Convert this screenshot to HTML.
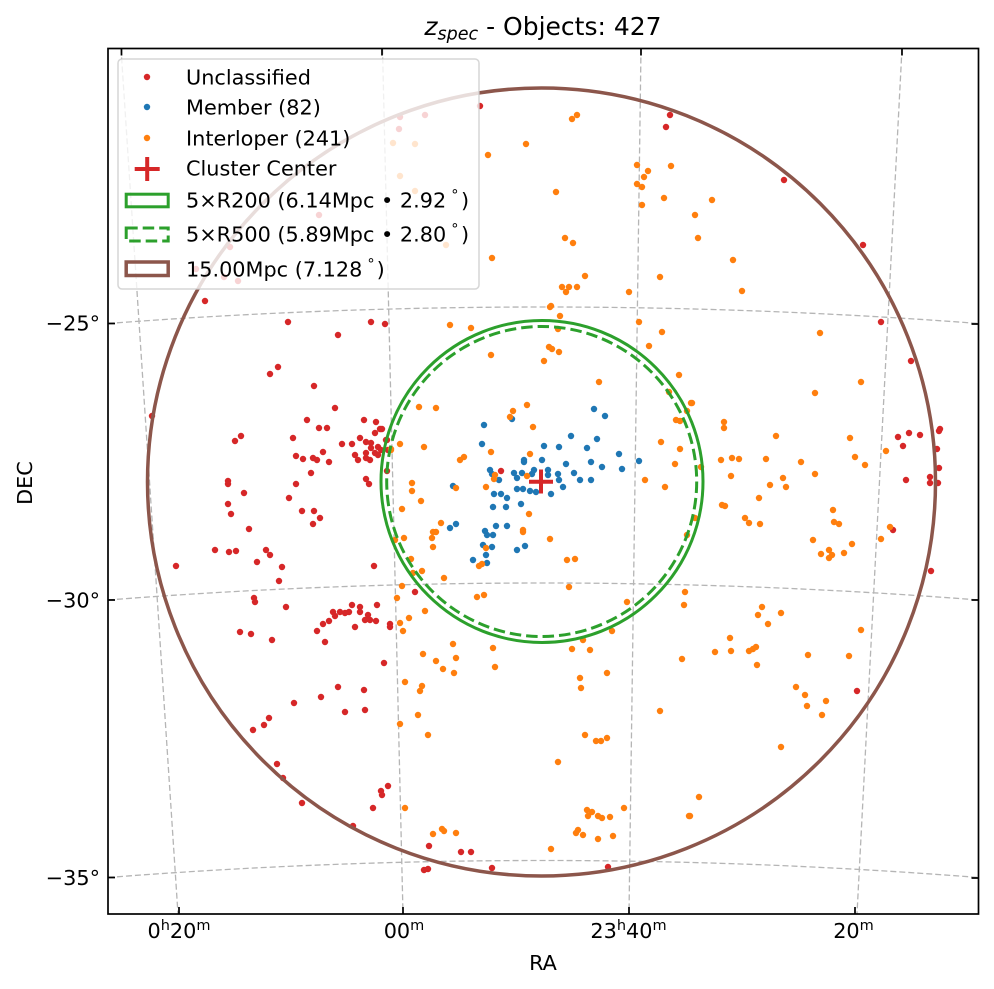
<!DOCTYPE html>
<html>
<head>
<meta charset="utf-8">
<style>
html,body{margin:0;padding:0;background:#fff;}
svg{display:block;}
text{font-family:"DejaVu Sans","Liberation Sans",sans-serif;fill:#000;}
</style>
</head>
<body>
<svg width="994" height="989" viewBox="0 0 994 989" xmlns="http://www.w3.org/2000/svg">
<defs>
<clipPath id="ax"><rect x="108" y="48.5" width="870.5" height="865.5"/></clipPath>
</defs>
<rect width="994" height="989" fill="#fff"/>

<!-- title -->
<text x="543" y="35" text-anchor="middle" font-size="25"><tspan font-style="italic">z</tspan><tspan font-style="italic" font-size="17.5" dy="4.5">spec</tspan><tspan dy="-4.5"> - Objects: 427</tspan></text>

<g clip-path="url(#ax)">
<!-- grid -->
<g fill="none" stroke="#b5b5b5" stroke-width="1.3" stroke-dasharray="6,3">
<path d="M121 48.5L178 914"/>
<path d="M382.5 48.5L403 914"/>
<path d="M641 48.5L629 914"/>
<path d="M902 48.5L857 914"/>
<path d="M108 323.5Q543 290.5 978.5 323.5"/>
<path d="M108 600Q543 566 978.5 600"/>
<path d="M108 877.5Q543 843.5 978.5 877.5"/>
</g>

<!-- unclassified -->
<path fill="none" stroke="#d62728" stroke-width="6.4" stroke-linecap="round" d="M480 106h0M670 115h0M666 127h0M784 180h0M863 245h0M881 322h0M205 301h0M400 117h0M425 115h0M399 129h0M319 215h0M230 247h0M196 269h0M224 277h0M238 281h0M288 322h0M371 322h0M385 324h0M338 335h0M278 367h0M270 374h0M314 386h0M335 408h0M152 416h0M307 420h0M364 420h0M376 422h0M380 429h0M319 428h0M327 428h0M241 436h0M235 441h0M293 438h0M360 438h0M366 442h0M371 443h0M375 433h0M378 447h0M371 448h0M381 450h0M366 453h0M375 453h0M355 455h0M358 460h0M366 458h0M370 460h0M378 455h0M386 440h0M388 450h0M342 444h0M352 444h0M323 452h0M296 456h0M303 459h0M313 458h0M317 460h0M329 462h0M311 473h0M387 471h0M228 481h0M228 484h0M366 479h0M369 484h0M296 484h0M244 493h0M289 498h0M228 504h0M231 514h0M302 511h0M314 511h0M320 518h0M313 524h0M249 529h0M215 550h0M229 552h0M236 551h0M266 550h0M270 555h0M257 562h0M282 567h0M279 581h0M176 566h0M374 566h0M254 598h0M382 429h0M387 440h0M501 471h0M415 592h0M255 602h0M286 607h0M240 632h0M251 634h0M272 640h0M317 631h0M325 642h0M323 624h0M329 621h0M333 612h0M335 616h0M340 612h0M345 613h0M349 612h0M352 605h0M360 607h0M360 612h0M355 627h0M368 615h0M365 620h0M370 620h0M376 621h0M377 605h0M390 624h0M390 627h0M384 663h0M338 687h0M321 697h0M364 690h0M294 703h0M345 712h0M365 710h0M269 718h0M264 725h0M253 730h0M277 764h0M283 778h0M302 803h0M388 786h0M381 791h0M382 795h0M373 808h0M353 826h0M429 846h0M461 852h0M471 852h0M492 868h0M424 870h0M428 869h0M608 867h0M911 361h0M898 437h0M909 433h0M920 435h0M903 446h0M939 431h0M940 429h0M937 449h0M939 468h0M930 477h0M930 483h0M938 483h0M906 480h0M893 530h0M931 571h0M857 691h0"/>

<!-- members -->
<path fill="none" stroke="#1f77b4" stroke-width="6.4" stroke-linecap="round" d="M484 425h0M482 444h0M594 409h0M605 416h0M544 446h0M559 447h0M571 436h0M597 439h0M587 448h0M619 454h0M639 461h0M622 469h0M602 467h0M591 462h0M566 464h0M574 473h0M580 480h0M591 480h0M563 487h0M559 480h0M558 474h0M548 470h0M548 475h0M542 460h0M524 460h0M524 462h0M534 470h0M532 474h0M522 473h0M514 473h0M517 478h0M490 470h0M492 474h0M499 480h0M517 489h0M523 489h0M530 491h0M536 492h0M551 494h0M494 494h0M501 494h0M507 498h0M493 507h0M506 507h0M521 504h0M453 486h0M496 526h0M507 526h0M450 528h0M456 524h0M485 531h0M487 535h0M493 535h0M483 545h0M492 547h0M517 550h0M525 546h0M473 560h0M486 555h0M487 563h0M512 419h0"/>

<!-- interlopers -->
<path fill="none" stroke="#ff7f0e" stroke-width="6.4" stroke-linecap="round" d="M572 119h0M577 115h0M526 144h0M488 155h0M637 165h0M648 171h0M644 177h0M671 166h0M637 184h0M642 187h0M642 205h0M556 192h0M664 198h0M695 215h0M698 238h0M565 238h0M573 243h0M492 258h0M585 276h0M660 277h0M562 287h0M569 287h0M577 287h0M566 292h0M629 292h0M551 306h0M712 200h0M733 260h0M742 291h0M393 143h0M415 144h0M400 176h0M415 191h0M446 245h0M550 307h0M560 316h0M558 329h0M450 325h0M471 328h0M639 322h0M662 332h0M649 346h0M491 355h0M549 347h0M552 349h0M559 352h0M544 361h0M679 375h0M599 382h0M669 392h0M691 403h0M687 411h0M419 407h0M436 408h0M527 405h0M513 411h0M510 417h0M533 427h0M676 420h0M680 421h0M400 444h0M424 447h0M661 442h0M680 449h0M491 452h0M530 454h0M464 457h0M460 460h0M675 464h0M495 475h0M494 479h0M527 476h0M412 483h0M412 491h0M456 488h0M486 487h0M645 480h0M665 487h0M421 501h0M402 509h0M529 514h0M441 523h0M433 532h0M436 532h0M432 538h0M404 538h0M523 530h0M523 532h0M550 539h0M433 547h0M486 548h0M411 559h0M567 560h0M575 559h0M422 571h0M413 573h0M482 564h0M479 566h0M444 578h0M402 586h0M569 587h0M477 597h0M484 595h0M397 598h0M685 592h0M695 518h0M687 535h0M391 449h0M391 450h0M395 540h0M820 333h0M861 382h0M815 393h0M692 403h0M724 422h0M724 428h0M776 436h0M850 438h0M886 451h0M855 457h0M865 465h0M721 460h0M732 458h0M739 459h0M766 459h0M801 462h0M815 474h0M731 476h0M783 478h0M770 485h0M786 487h0M759 498h0M722 505h0M725 506h0M745 518h0M749 523h0M760 524h0M833 510h0M834 522h0M839 524h0M890 527h0M881 539h0M813 540h0M852 544h0M829 550h0M821 554h0M832 555h0M829 558h0M844 553h0M701 467h0M400 623h0M403 631h0M405 682h0M400 724h0M405 808h0M425 611h0M409 618h0M627 602h0M684 605h0M612 631h0M583 640h0M572 649h0M590 650h0M453 644h0M493 648h0M423 654h0M456 658h0M436 661h0M443 669h0M454 673h0M495 667h0M682 659h0M607 673h0M580 678h0M581 688h0M422 686h0M420 691h0M418 715h0M428 735h0M660 711h0M585 735h0M596 741h0M601 741h0M607 738h0M558 762h0M587 810h0M592 812h0M588 816h0M598 816h0M602 818h0M610 817h0M624 808h0M689 816h0M442 829h0M444 831h0M433 834h0M456 833h0M578 830h0M576 833h0M583 835h0M598 839h0M613 836h0M551 849h0M762 607h0M758 615h0M781 613h0M768 624h0M861 630h0M730 638h0M715 652h0M731 651h0M749 651h0M753 649h0M756 647h0M808 655h0M849 656h0M757 665h0M796 687h0M805 695h0M826 701h0M807 706h0M822 715h0M781 747h0M699 797h0M690 816h0"/>

<!-- circles -->
<circle cx="541.5" cy="482" r="394" fill="none" stroke="#8c564b" stroke-width="3.5"/>
<circle cx="542" cy="481.5" r="161" fill="none" stroke="#2ca02c" stroke-width="3"/>
<circle cx="541.7" cy="481.5" r="155" fill="none" stroke="#2ca02c" stroke-width="3" stroke-dasharray="11.5,5"/>

<!-- cluster center -->
<path d="M529 481.7h24M541 469.5v24" stroke="#d62728" stroke-width="4" fill="none"/>
</g>

<!-- legend -->
<rect x="118" y="59" width="361" height="230" rx="4" ry="4" fill="#fff" fill-opacity="0.8" stroke="#cccccc" stroke-opacity="0.8" stroke-width="1.5"/>
<circle cx="147" cy="77" r="3.2" fill="#d62728"/>
<circle cx="147" cy="107" r="3.2" fill="#1f77b4"/>
<circle cx="147" cy="138" r="3.2" fill="#ff7f0e"/>
<path d="M134.7 169h25M147.2 157v24" stroke="#d62728" stroke-width="4" fill="none"/>
<rect x="126.2" y="194.2" width="42" height="12.6" fill="none" stroke="#2ca02c" stroke-width="3"/>
<rect x="126.2" y="228" width="42" height="13" fill="none" stroke="#2ca02c" stroke-width="3" stroke-dasharray="11.5,5"/>
<rect x="126.2" y="262" width="42" height="13.5" fill="none" stroke="#8c564b" stroke-width="3.5"/>
<g font-size="20.8">
<text x="186" y="84.5">Unclassified</text>
<text x="186" y="114.5">Member (82)</text>
<text x="186" y="145.5">Interloper (241)</text>
<text x="186" y="175.5">Cluster Center</text>
<text x="186" y="207.5">5×R200 (6.14Mpc • 2.92<tspan dx="5" dy="-8" font-size="14.5">°</tspan><tspan dx="2.5" dy="8">)</tspan></text>
<text x="186" y="241.5">5×R500 (5.89Mpc • 2.80<tspan dx="5" dy="-8" font-size="14.5">°</tspan><tspan dx="2.5" dy="8">)</tspan></text>
<text x="186" y="276.5">15.00Mpc (7.128<tspan dx="5" dy="-8" font-size="14.5">°</tspan><tspan dx="2" dy="8">)</tspan></text>
</g>

<!-- spines -->
<rect x="108" y="48.5" width="870.5" height="865.5" fill="none" stroke="#000" stroke-width="1.7"/>
<!-- ticks -->
<g stroke="#000" stroke-width="1.7" fill="none">
<path d="M179 914v-7M403 914v-7M629 914v-7M855 914v-7"/>
<path d="M121.5 48.5v7M382 48.5v7M641 48.5v7M902 48.5v7"/>
<path d="M108 323.5h7M108 600h7M108 877.5h7"/>
<path d="M978.5 324h-7M978.5 600h-7M978.5 878h-7"/>
</g>

<!-- tick labels -->
<g font-size="20.8">
<text x="100" y="330.5" text-anchor="end">−25°</text>
<text x="100" y="607.5" text-anchor="end">−30°</text>
<text x="100" y="885" text-anchor="end">−35°</text>
<text x="179" y="938" text-anchor="middle">0<tspan font-size="14.5" dy="-8">h</tspan><tspan dy="8">20</tspan><tspan font-size="14.5" dy="-8">m</tspan></text>
<text x="404" y="938" text-anchor="middle">00<tspan font-size="14.5" dy="-8">m</tspan></text>
<text x="628.5" y="938" text-anchor="middle">23<tspan font-size="14.5" dy="-8">h</tspan><tspan dy="8">40</tspan><tspan font-size="14.5" dy="-8">m</tspan></text>
<text x="853.5" y="938" text-anchor="middle">20<tspan font-size="14.5" dy="-8">m</tspan></text>
<text x="543" y="970" text-anchor="middle">RA</text>
<text transform="translate(32,483) rotate(-90)" text-anchor="middle">DEC</text>
</g>
</svg>
</body>
</html>
